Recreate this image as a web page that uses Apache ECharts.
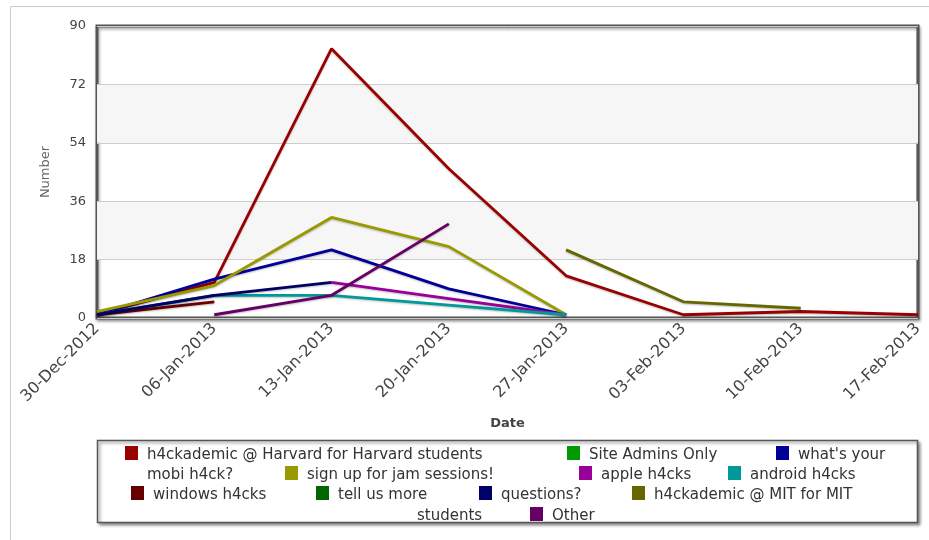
<!DOCTYPE html>
<html>
<head>
<meta charset="utf-8">
<script src="https://cdn.jsdelivr.net/npm/echarts@6/dist/echarts.min.js"></script>
<style>
  html, body { margin: 0; padding: 0; background: #fff; }
  #chart { width: 929px; height: 540px; }
</style>
</head>
<body>
<div id="chart"></div>
<script>
// categories (weeks)
const dates = ['30-Dec-2012', '06-Jan-2013', '13-Jan-2013', '20-Jan-2013', '27-Jan-2013', '03-Feb-2013', '10-Feb-2013', '17-Feb-2013']
// y axis ticks
const yTicks = [0, 18, 36, 54, 72, 90]

// series names + values
const names = [
  'h4ckademic @ Harvard for Harvard students',
  'Site Admins Only',
  "what's your mobi h4ck?",
  'sign up for jam sessions!',
  'apple h4cks',
  'android h4cks',
  'windows h4cks',
  'tell us more',
  'questions?',
  'h4ckademic @ MIT for MIT students',
  'Other'
]
const harvard = [1, 11, 83, 46, 13, 1, 2, 1]
const siteAdmins = [null, null, null, null, null, null, null, null]
const mobi = [1, 12, 21, 9, 1, null, null, null]
const jam = [2, 10, 31, 22, 1, null, null, null]
const apple = [null, null, 11, 6, 1, null, null, null]
const android = [1, 7, 7, 4, 1, null, null, null]
const windows = [1, 5, null, null, null, null, null, null]
const tellUs = [null, null, null, null, null, null, null, null]
const questions = [1, 7, 11, null, null, null, null, null]
const mit = [null, null, null, null, 21, 5, 3, null]
const other = [null, 1, 7, 29, null, null, null, null]

const values = [harvard, siteAdmins, mobi, jam, apple, android, windows, tellUs, questions, mit, other]
const colors = ['#990000', '#009900', '#000099', '#999900', '#990099', '#009999', '#660000', '#006600', '#000066', '#666600', '#660066']

// legend layout (html-like flow, two names wrap onto the next line)
const legendPos = [
  { left: 125, top: 446, label: 'h4ckademic @ Harvard for Harvard students' },
  { left: 567, top: 446, label: 'Site Admins Only' },
  { left: 776, top: 446, label: "what's your" },
  { left: 285, top: 466, label: 'sign up for jam sessions!' },
  { left: 579, top: 466, label: 'apple h4cks' },
  { left: 728, top: 466, label: 'android h4cks' },
  { left: 131, top: 486, label: 'windows h4cks' },
  { left: 316, top: 486, label: 'tell us more' },
  { left: 479, top: 486, label: 'questions?' },
  { left: 632, top: 486, label: 'h4ckademic @ MIT for MIT' },
  { left: 530, top: 507, label: 'Other' }
]

const font = 'DejaVu Sans'

let myChart = echarts.init(document.getElementById('chart'))
myChart.setOption({
  animation: false,
  color: colors,
  textStyle: { fontFamily: font },
  grid: {
    left: 97,
    right: 11,
    top: 26,
    bottom: 222,
    show: true,
    borderColor: '#555',
    borderWidth: 3,
    backgroundColor: '#fff',
    shadowColor: 'rgba(0,0,0,0.35)',
    shadowBlur: 3,
    shadowOffsetX: 1,
    shadowOffsetY: 2
  },
  xAxis: {
    type: 'category',
    data: dates,
    boundaryGap: false,
    name: 'Date',
    nameLocation: 'middle',
    nameGap: 99,
    nameTextStyle: { fontFamily: font, fontSize: 13, fontWeight: 'bold', color: '#444' },
    axisLine: { show: false },
    axisTick: { show: false },
    axisLabel: { rotate: 45, interval: 0, fontFamily: font, fontSize: 16, color: '#444', margin: 8 }
  },
  yAxis: {
    type: 'value',
    min: yTicks[0],
    max: yTicks[yTicks.length - 1],
    interval: yTicks[1] - yTicks[0],
    name: 'Number',
    nameLocation: 'middle',
    nameGap: 45,
    nameTextStyle: { fontFamily: font, fontSize: 13, color: '#666' },
    axisLine: { show: false },
    axisTick: { show: false },
    axisLabel: { fontFamily: font, fontSize: 13, color: '#444', margin: 11 },
    splitLine: { lineStyle: { color: '#cccccc', width: 1 } },
    splitArea: { show: true, areaStyle: { color: ['rgba(255,255,255,0)', '#f6f6f6'] } }
  },
  legend: legendPos.map((p, i) => ({
    data: [names[i]],
    left: p.left,
    top: p.top,
    padding: 0,
    icon: 'rect',
    itemWidth: 13,
    itemHeight: 14,
    selectedMode: false,
    formatter: () => '{t|' + p.label + '}',
    textStyle: {
      fontFamily: font, fontSize: 15, color: '#333', padding: [0, 0, 0, 4],
      rich: { t: { fontFamily: font, fontSize: 15, color: '#333', padding: [5, 0, 0, 0] } }
    }
  })),
  graphic: [
    // outer light frame
    { type: 'rect', z: -10, shape: { x: 10.5, y: 6.5, width: 940, height: 560 }, style: { fill: '#fff', stroke: '#cccccc', lineWidth: 1 } },
    // legend box
    {
      type: 'rect', z: -5,
      shape: { x: 97.5, y: 440.5, width: 820, height: 82 },
      style: { fill: '#fff', stroke: '#555', lineWidth: 1.5, shadowColor: 'rgba(0,0,0,0.45)', shadowBlur: 3, shadowOffsetX: 2, shadowOffsetY: 2 }
    },
    // wrapped parts of the long legend names
    { type: 'text', left: 147, top: 468, style: { text: 'mobi h4ck?', font: '15px "DejaVu Sans"', fill: '#333' } },
    { type: 'text', left: 417, top: 509, style: { text: 'students', font: '15px "DejaVu Sans"', fill: '#333' } }
  ],
  series: names.map((n, i) => ({
    name: n,
    type: 'line',
    data: values[i],
    showSymbol: false,
    symbol: 'none',
    connectNulls: false,
    lineStyle: { width: 2.8, shadowColor: 'rgba(0,0,0,0.25)', shadowBlur: 2, shadowOffsetY: 1 }
  }))
})
</script>
</body>
</html>
